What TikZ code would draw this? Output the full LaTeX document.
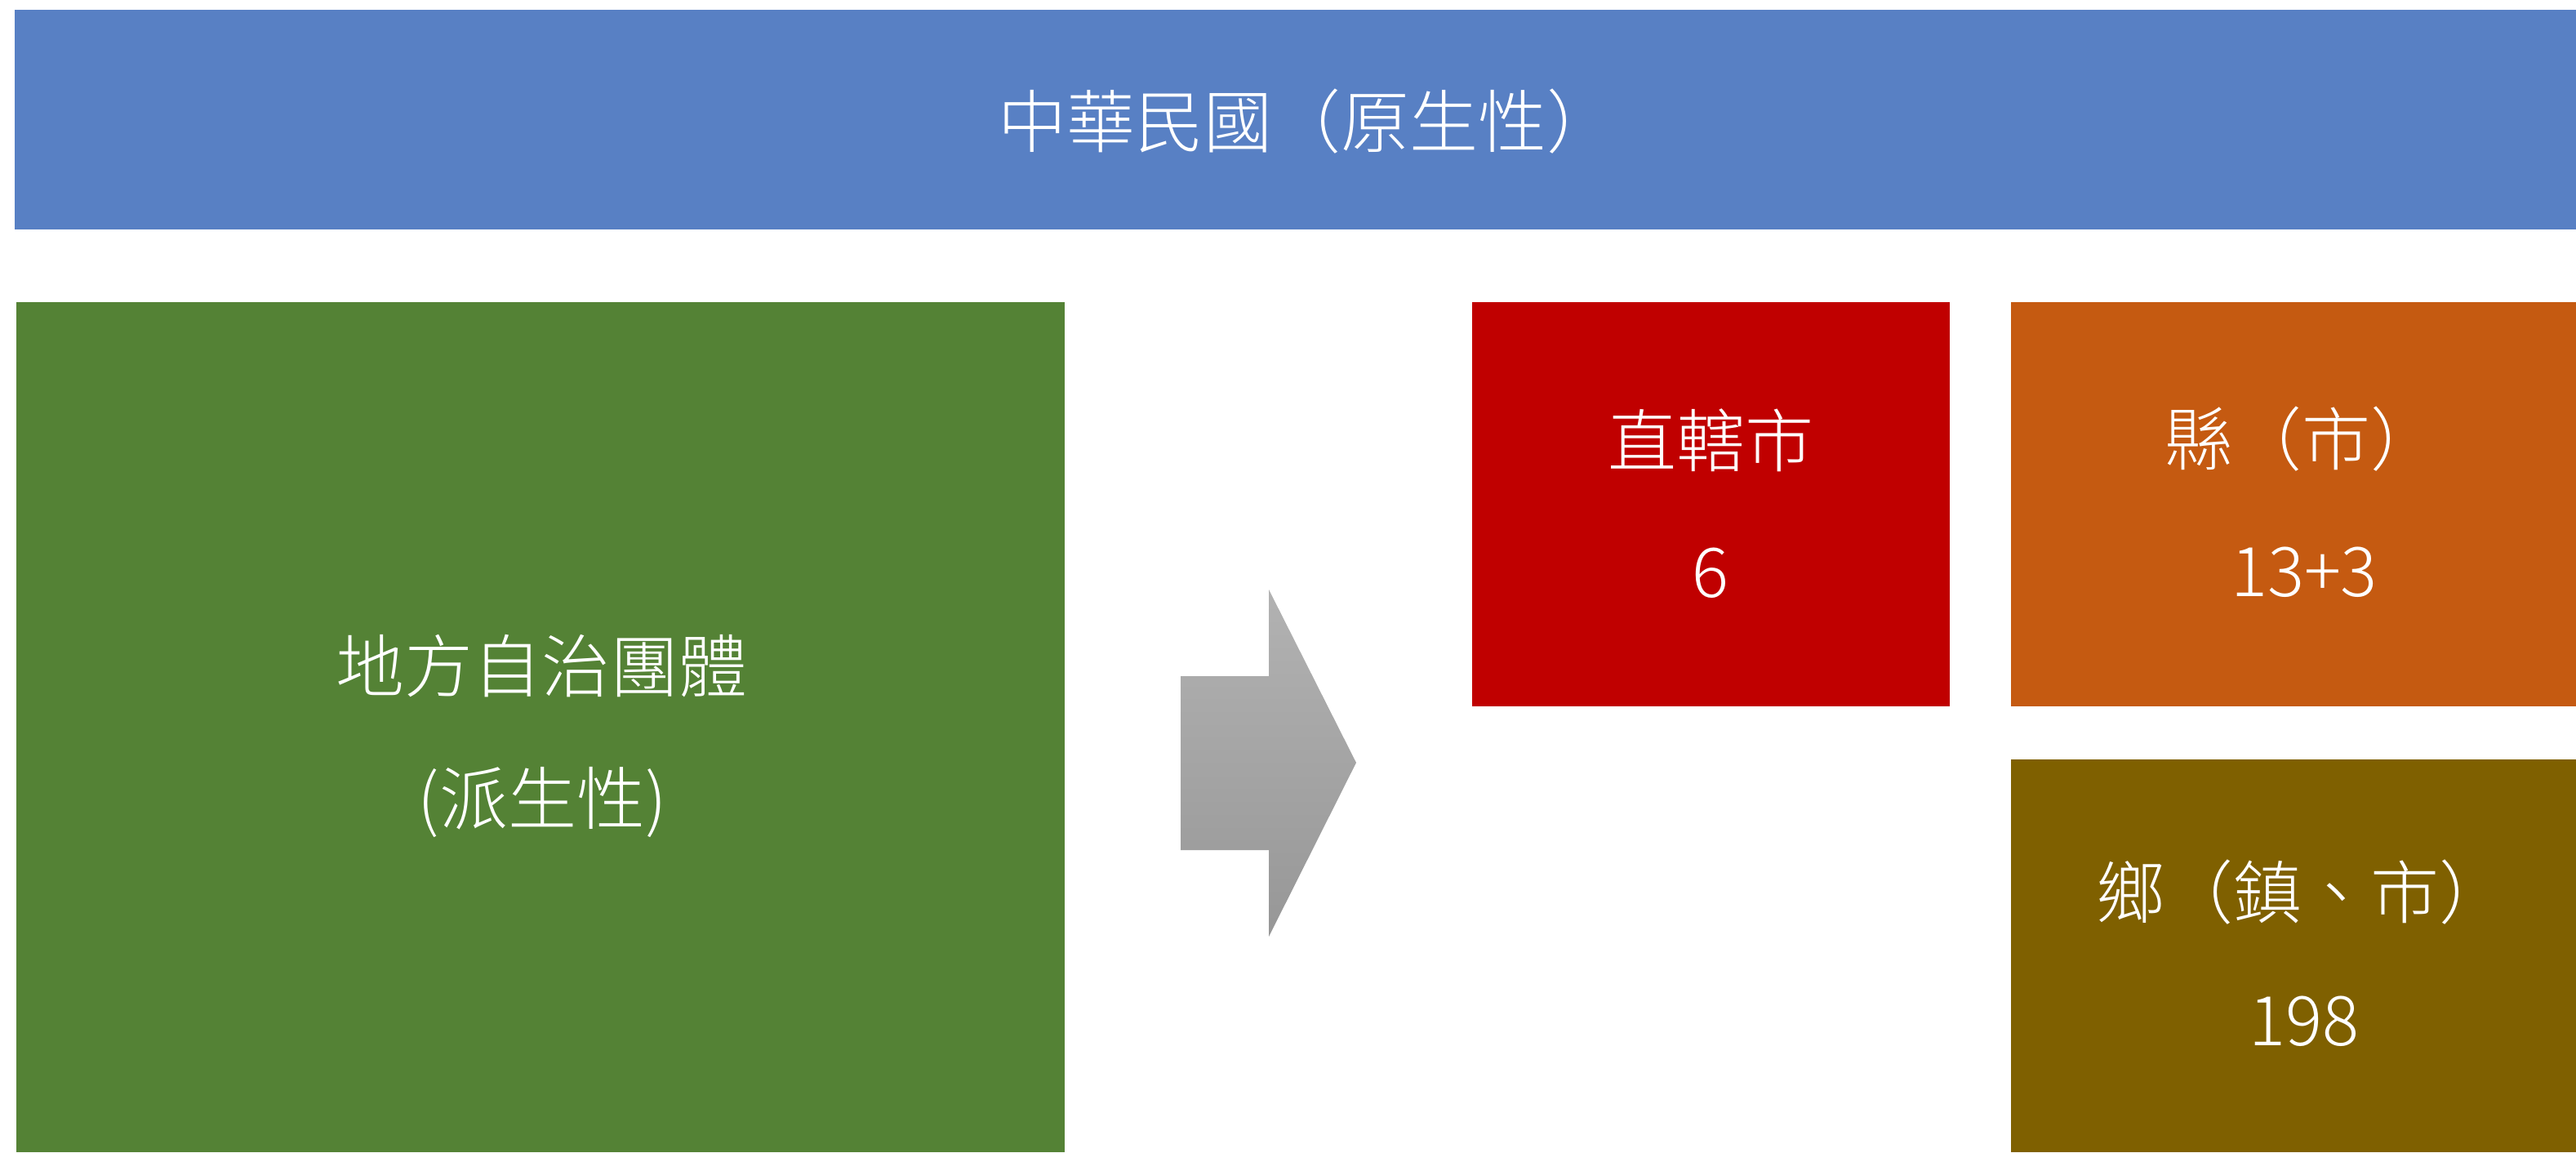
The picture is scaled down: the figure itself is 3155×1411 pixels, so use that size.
\documentclass[tikz,border=0pt]{standalone}
\usepackage{fontspec}
\setmainfont{Noto Sans CJK TC}[UprightFont=* Light]
\definecolor{cblue}{HTML}{5880C4}
\definecolor{cgreen}{HTML}{548235}
\definecolor{cred}{HTML}{C00000}
\definecolor{corange}{HTML}{C55A11}
\definecolor{colive}{HTML}{7F6000}
\definecolor{arrowtop}{HTML}{B2B2B2}
\definecolor{arrowbot}{HTML}{979797}
\begin{document}
\begin{tikzpicture}[x=1pt,y=-1pt,
  box/.style={draw=none,inner sep=0pt,outer sep=0pt,anchor=north west},
  lbl/.style={text=white,font=\fontsize{84}{100}\selectfont,anchor=base,inner sep=0pt}]
\useasboundingbox (0,0) rectangle (3155,1411);
% boxes
\node[box,fill=cblue,minimum width=3137pt,minimum height=269pt] (top) at (18,12) {};
\node[box,fill=cgreen,minimum width=1284pt,minimum height=1041pt] (local) at (20,370) {};
\node[box,fill=cred,minimum width=585pt,minimum height=495pt] (direct) at (1803,370) {};
\node[box,fill=corange,minimum width=692pt,minimum height=495pt] (county) at (2463,370) {};
\node[box,fill=colive,minimum width=692pt,minimum height=481pt] (township) at (2463,930) {};
% labels
\node[lbl] (topA) at (1600,180) {中華民國（原生性）};
\node[lbl] (localA) at (663,847) {地方自治團體};
\node[lbl] (localB) at (664,1009) {(派生性)};
\node[lbl] (directA) at (2095,571) {直轄市};
\node[lbl] (directB) at (2095,731) {6};
\node[lbl] (countyA) at (2819,569) {縣（市）};
\node[lbl] (countyB) at (2822,730) {13+3};
\node[lbl] (townA) at (2819,1124) {鄉（鎮、市）};
\node[lbl] (townB) at (2822,1280) {198};
% block arrow
\coordinate (aTail) at (1446,934);
\coordinate (aTip) at (1661,934);
\shade[top color=arrowtop,bottom color=arrowbot]
  (1446,828) -- (1554,828) -- (1554,722) -- (aTip) -- (1554,1147)
  -- (1554,1041) -- (1446,1041) -- cycle;
\end{tikzpicture}
\end{document}
